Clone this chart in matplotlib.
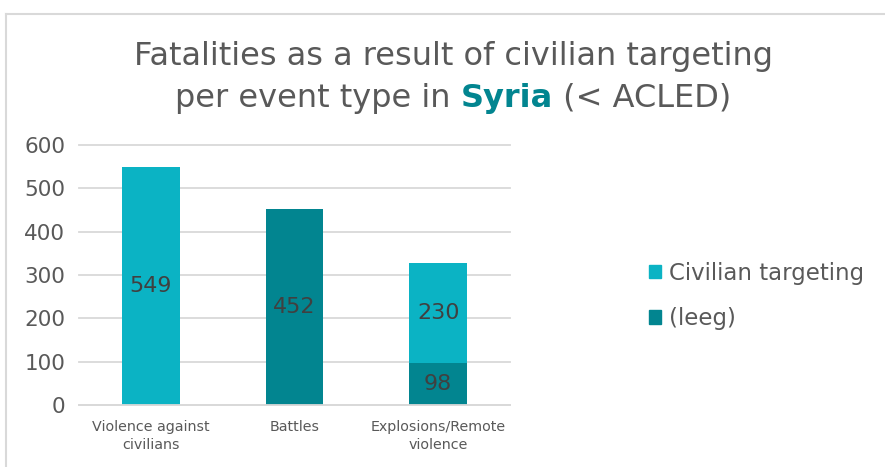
import matplotlib
matplotlib.use("Agg")
from matplotlib import pyplot as plt
from matplotlib.patches import Rectangle
from matplotlib.lines import Line2D

categories = ["Violence against\ncivilians", "Battles", "Explosions/Remote\nviolence"]
leeg = [0, 452, 98]
civilian = [549, 0, 230]
series_names = ["Civilian targeting", "(leeg)"]
yticks = [0, 100, 200, 300, 400, 500, 600]

light = "#0BB3C4"
dark = "#028590"
txt = "#595959"

plt.rcParams["font.family"] = ["DejaVu Sans Condensed", "DejaVu Sans"]

fig = plt.figure(figsize=(8.85, 4.67), dpi=100)
ax = fig.add_axes([79/885, 1-405/467, 431/885, 260/467])

x = list(range(len(categories)))
ax.bar(x, leeg, width=0.4, color=dark, zorder=2)
ax.bar(x, civilian, width=0.4, bottom=leeg, color=light, zorder=2)

for i in x:
    if leeg[i] > 0:
        ax.text(i, leeg[i]/2, str(leeg[i]), ha="center", va="center",
                fontsize=16, color="#404040", zorder=3)
    if civilian[i] > 0:
        ax.text(i, leeg[i] + civilian[i]/2, str(civilian[i]), ha="center",
                va="center", fontsize=16, color="#404040", zorder=3)

ax.set_xlim(-0.5, 2.5)
ax.set_ylim(0, 600)
ax.set_yticks(yticks)
ax.yaxis.grid(True, color="#D9D9D9", linewidth=1.3, zorder=0)
for gl in ax.get_ygridlines():
    gl.set_clip_on(False)
ax.set_axisbelow(True)
for s in ["top", "right", "left"]:
    ax.spines[s].set_visible(False)
ax.spines["bottom"].set_color("#D9D9D9")
ax.spines["bottom"].set_linewidth(1.3)
ax.tick_params(axis="y", length=0, labelsize=15.5, labelcolor=txt, pad=10)
ax.set_xticks(x)
ax.set_xticklabels(categories, fontsize=10.3, color=txt, linespacing=1.35)
ax.tick_params(axis="x", length=0, pad=11)

# title
fs = 23
fig.text(453/885, 1-56/467, "Fatalities as a result of civilian targeting",
         ha="center", va="center", fontsize=fs, color=txt)
t1 = fig.text(0.195, 1-98/467, "per event type in ", ha="left", va="center",
              fontsize=fs, color=txt)
fig.canvas.draw()
r = fig.canvas.get_renderer()
bb = t1.get_window_extent(r)
t2 = fig.text(bb.x1/fig.bbox.width, 1-98/467, "Syria", ha="left", va="center",
              fontsize=fs, color=dark, fontweight="bold")
bb2 = t2.get_window_extent(r)
t3 = fig.text(bb2.x1/fig.bbox.width, 1-98/467, " (< ACLED)", ha="left",
              va="center", fontsize=fs, color=txt)
bb3 = t3.get_window_extent(r)
# center the second line
w = bb3.x1 - bb.x0
shift = (453 - w/2) - bb.x0
for t in (t1, t2, t3):
    px, py = t.get_position()
    t.set_position((px + shift/fig.bbox.width, py))

handles = [Rectangle((0, 0), 1, 1, color=light), Rectangle((0, 0), 1, 1, color=dark)]
leg = fig.legend(handles, series_names, loc="center left",
                 bbox_to_anchor=(628/885, 1-296/467), frameon=False,
                 fontsize=16.5, labelcolor=txt, handlelength=0.55,
                 handleheight=0.55, handletextpad=0.35, labelspacing=1.0)

# chart border
fig.add_artist(Line2D([6/885, 1], [1-14/467, 1-14/467], color="#D9D9D9", lw=1.5))
fig.add_artist(Line2D([6/885, 6/885], [0, 1-14/467], color="#D9D9D9", lw=1.5))

fig.savefig("out.png", dpi=100)
